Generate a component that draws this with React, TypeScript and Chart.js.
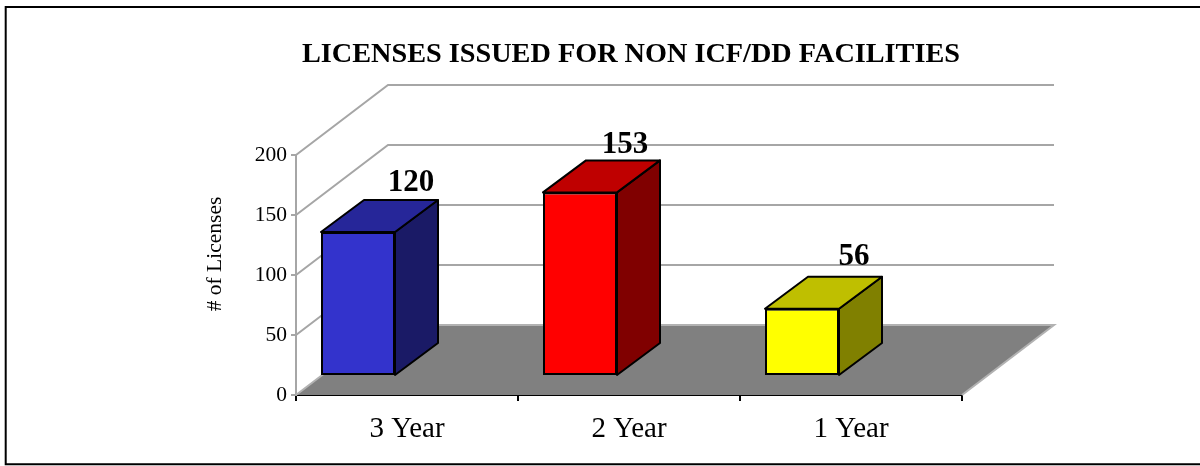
import { useEffect, useRef } from "react";
import { Chart, registerables } from "chart.js";

Chart.register(...registerables);

const categories = ["3 Year", "2 Year", "1 Year"];
const licenses = [120, 153, 56];
const frontColors = ["#3333CC", "#FF0000", "#FFFF00"];
const topColors = ["#262699", "#BF0000", "#BFBF00"];
const sideColors = ["#1A1A66", "#800000", "#808000"];
const labelNudgesX = [3, -5, 2];
const labelNudgesY = [1, 3, -2];
const yTicks = [0, 50, 100, 150, 200];

const SERIF = '"Liberation Serif", serif';
const GREY = "#A6A6A6";
// perspective of the 3D box
const WALL_DX = 92, WALL_DY = 70;
const BAR_INSET_X = 25, BAR_INSET_Y = 19;
const BAR_DX = 43, BAR_DY = 32;

const poly = (ctx: CanvasRenderingContext2D, pts: number[][], fill?: string, stroke?: string, lw = 2) => {
  ctx.beginPath();
  pts.forEach((p, i) => (i ? ctx.lineTo(p[0], p[1]) : ctx.moveTo(p[0], p[1])));
  ctx.closePath();
  if (fill) { ctx.fillStyle = fill; ctx.fill(); }
  if (stroke) { ctx.strokeStyle = stroke; ctx.lineWidth = lw; ctx.lineJoin = "round"; ctx.stroke(); }
};

const box3d = {
  id: "box3d",
  beforeDraw(chart: any) {
    const { ctx } = chart;
    ctx.save();
    ctx.strokeStyle = "#000";
    ctx.lineWidth = 2;
    ctx.beginPath();
    ctx.moveTo(1200, 7);
    ctx.lineTo(5.7, 7);
    ctx.lineTo(5.7, 464.3);
    ctx.lineTo(1200, 464.3);
    ctx.stroke();
    ctx.restore();
  },
  afterDatasetsUpdate(chart: any) {
    const meta = chart.getDatasetMeta(0);
    const step = chart.scales.x.width / categories.length;
    meta.data.forEach((el: any) => {
      const w = step * chart.data.datasets[0].barPercentage;
      el.x = el.x - step / 2 + BAR_INSET_X + w / 2;
      el.y -= BAR_INSET_Y;
      el.base -= BAR_INSET_Y;
    });
  },
  beforeDatasetsDraw(chart: any) {
    const { ctx, scales } = chart;
    const { left, right } = chart.chartArea;
    const y0 = scales.y.getPixelForValue(0);
    ctx.save();
    // floor
    poly(ctx, [[left, y0], [right, y0], [right + WALL_DX, y0 - WALL_DY], [left + WALL_DX, y0 - WALL_DY]], "#808080");
    ctx.strokeStyle = "#B2B2B2";
    ctx.lineWidth = 2;
    ctx.beginPath();
    ctx.moveTo(left, y0);
    ctx.lineTo(left + WALL_DX, y0 - WALL_DY);
    ctx.lineTo(right + WALL_DX, y0 - WALL_DY);
    ctx.lineTo(right, y0);
    ctx.stroke();
    // walls
    ctx.strokeStyle = GREY;
    ctx.lineWidth = 2;
    yTicks.slice(1).forEach((v) => {
      const y = scales.y.getPixelForValue(v);
      ctx.beginPath();
      ctx.moveTo(left, y);
      ctx.lineTo(left + WALL_DX, y - WALL_DY);
      ctx.lineTo(right + WALL_DX, y - WALL_DY);
      ctx.stroke();
    });
    // top and side faces of the bars
    chart.getDatasetMeta(0).data.forEach((el: any, i: number) => {
      const l = el.x - el.width / 2, r = el.x + el.width / 2;
      poly(ctx, [[r, el.y], [r + BAR_DX, el.y - BAR_DY], [r + BAR_DX, el.base - BAR_DY], [r, el.base]], sideColors[i], "#000");
      poly(ctx, [[l, el.y], [l + BAR_DX, el.y - BAR_DY], [r + BAR_DX, el.y - BAR_DY], [r, el.y]], topColors[i], "#000");
    });
    ctx.restore();
  },
  afterDatasetsDraw(chart: any) {
    const { ctx } = chart;
    ctx.save();
    ctx.fillStyle = "#000";
    ctx.font = `bold 31px ${SERIF}`;
    ctx.textAlign = "center";
    ctx.textBaseline = "middle";
    chart.getDatasetMeta(0).data.forEach((el: any, i: number) => {
      ctx.fillText(String(licenses[i]), el.x + 50 + labelNudgesX[i], el.y - 50 + labelNudgesY[i]);
    });
    // axis title
    ctx.font = `21.5px ${SERIF}`;
    ctx.translate(215, 254);
    ctx.rotate(-Math.PI / 2);
    ctx.fillText("# of Licenses", 0, 0);
    ctx.restore();
  },
  afterLayout(chart: any) {
    if (chart.titleBlock) {
      chart.titleBlock.left += 2;
      chart.titleBlock.right += 2;
    }
  },
};

export default function App() {
  const ref = useRef<HTMLCanvasElement>(null);
  useEffect(() => {
    const chart = new Chart(ref.current!, {
      type: "bar",
      data: {
        labels: categories,
        datasets: [{
          data: licenses,
          backgroundColor: frontColors,
          borderColor: "#000",
          borderWidth: 2,
          borderSkipped: false,
          barPercentage: 1 / 3,
          categoryPercentage: 1,
        }],
      },
      plugins: [box3d],
      options: {
        responsive: false,
        animation: false,
        events: [],
        layout: { padding: { left: 10, right: 238, top: 0, bottom: 0 } },
        plugins: {
          legend: { display: false },
          tooltip: { enabled: false },
          title: {
            display: true,
            text: "LICENSES ISSUED FOR NON ICF/DD FACILITIES",
            color: "#000",
            fullSize: false,
            font: { family: SERIF, size: 28.25, weight: "bold" },
            padding: { top: 38, bottom: 83.1 },
          },
        },
        scales: {
          x: {
            grid: { drawOnChartArea: false, color: "#000", tickLength: 6, lineWidth: 2 },
            border: { color: "#000", width: 2 },
            ticks: { color: "#000", padding: 11, maxRotation: 0, font: { family: SERIF, size: 29 } },
            afterFit(s: any) { s.height = 71; },
          },
          y: {
            min: 0,
            max: 200,
            grid: { drawOnChartArea: false, color: GREY, tickLength: 5, lineWidth: 2 },
            border: { color: GREY, width: 2 },
            ticks: { color: "#000", stepSize: 50, padding: 4, font: { family: SERIF, size: 21.5 } },
            afterFit(s: any) { s.width = 286; },
          },
        },
      } as any,
    });
    return () => chart.destroy();
  }, []);
  return (
    <div style={{ position: "fixed", left: 0, top: 0, width: 1200, height: 466, background: "#fff" }}>
      <canvas ref={ref} width={1200} height={466} style={{ display: "block" }} />
    </div>
  );
}
